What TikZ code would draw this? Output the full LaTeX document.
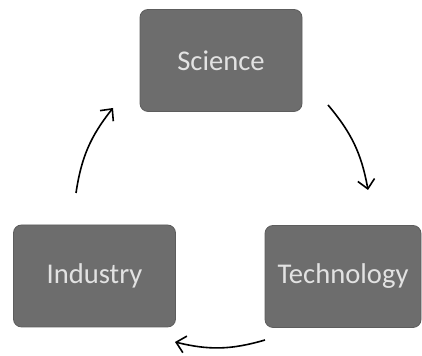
\documentclass[tikz,border=0pt]{standalone}
\usepackage{fontspec}
\setmainfont{Carlito}
\usepackage{xcolor}
\usepackage{tikz}
\usetikzlibrary{arrows,arrows.meta}

\definecolor{boxgray}{HTML}{6D6D6D}
\definecolor{textgray}{HTML}{E2E2E2}

\tikzset{
  stage/.style={rectangle,rounded corners=4pt,draw=boxgray!85!black,fill=boxgray,
    text=textgray,font=\fontsize{14.3}{17}\selectfont,inner sep=0pt,
    minimum width=81pt,minimum height=51pt},
  cyclearrow/.style={->,>={Straight Barb[length=4.5pt,width=8.5pt]},line width=0.8pt,bend left=15}
}

\begin{document}
\begin{tikzpicture}[x=0.5pt,y=0.5pt]
  \useasboundingbox (0,0) rectangle (422,356);
  \node[stage](s) at (221,295.5){Science};
  \node[stage](i) at (94.5,80){Industry};
  \node[stage,minimum width=78pt](t) at (343,79.5){Technology};
  % arrow ends
  \coordinate (i1) at (76,163);
  \coordinate (s1) at (113,248);
  \coordinate (s2) at (328,251);
  \coordinate (t1) at (368,166);
  \coordinate (t2) at (265,16);
  \coordinate (i2) at (175,14);
  \draw[cyclearrow] (i1) to (s1);
  \draw[cyclearrow] (s2) to (t1);
  \draw[cyclearrow] (t2) to (i2);
\end{tikzpicture}
\end{document}
